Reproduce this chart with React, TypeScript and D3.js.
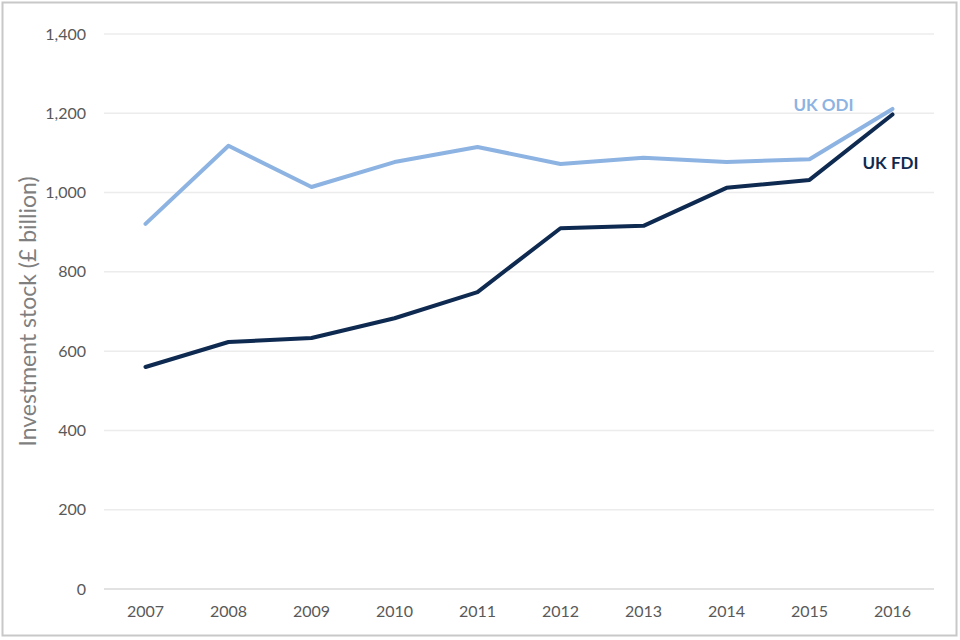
import { useEffect, useRef } from "react"
import * as d3 from "d3"

const years = ["2007", "2008", "2009", "2010", "2011", "2012", "2013", "2014", "2015", "2016"]
const ukOdi = [921, 1118, 1014, 1077, 1115, 1072, 1088, 1077, 1084, 1211]
const ukFdi = [560, 623, 633, 683, 749, 910, 916, 1012, 1032, 1197]
const yTicks = [0, 200, 400, 600, 800, 1000, 1200, 1400]

const FONT = "Lato, 'Open Sans', sans-serif"

export default function App() {
  const svgRef = useRef<SVGSVGElement>(null)

  useEffect(() => {
    if (!svgRef.current) return
    const svg = d3.select(svgRef.current)
    svg.selectAll("*").remove()

    const width = 960
    const height = 640
    const margin = { top: 34, right: 26, bottom: 51, left: 104 }
    const innerW = width - margin.left - margin.right
    const innerH = height - margin.top - margin.bottom

    // рамка
    svg
      .append("rect")
      .attr("x", 2.5)
      .attr("y", 2.5)
      .attr("width", width - 6)
      .attr("height", height - 7)
      .attr("fill", "#fff")
      .attr("stroke", "#c8c8c8")
      .attr("stroke-width", 2)

    const g = svg.append("g").attr("transform", `translate(${margin.left},${margin.top})`)

    const x = d3.scaleBand().domain(years).range([0, innerW])
    const y = d3.scaleLinear().domain([0, 1400]).range([innerH, 0])

    // сетка
    g.selectAll(".grid")
      .data(yTicks)
      .enter()
      .append("line")
      .attr("x1", 0)
      .attr("x2", innerW)
      .attr("y1", (d) => y(d))
      .attr("y2", (d) => y(d))
      .attr("stroke", (d) => (d === 0 ? "#d9d9d9" : "#ececec"))
      .attr("stroke-width", 1.5)

    // подписи оси Y
    g.selectAll(".ytick")
      .data(yTicks)
      .enter()
      .append("text")
      .attr("x", -18)
      .attr("y", (d) => y(d))
      .attr("dy", "0.35em")
      .attr("text-anchor", "end")
      .attr("fill", "#595959")
      .style("font-family", FONT)
      .style("font-size", "16px")
      .text((d) => d3.format(",")(d))

    // подписи оси X
    g.selectAll(".xtick")
      .data(years)
      .enter()
      .append("text")
      .attr("x", (d) => (x(d) || 0) + x.bandwidth() / 2)
      .attr("y", innerH + 28)
      .attr("text-anchor", "middle")
      .attr("fill", "#595959")
      .style("font-family", FONT)
      .style("font-size", "16px")
      .text((d) => d)

    // заголовок оси Y
    svg
      .append("text")
      .attr("transform", `translate(36,${margin.top + innerH / 2}) rotate(-90)`)
      .attr("text-anchor", "middle")
      .attr("fill", "#7f7f7f")
      .style("font-family", FONT)
      .style("font-size", "23px")
      .text("Investment stock (£ billion)")

    const line = d3
      .line<number>()
      .x((_, i) => (x(years[i]) || 0) + x.bandwidth() / 2)
      .y((d) => y(d))

    g.append("path")
      .datum(ukOdi)
      .attr("fill", "none")
      .attr("stroke", "#8db3e2")
      .attr("stroke-width", 4)
      .attr("stroke-linejoin", "round")
      .attr("stroke-linecap", "round")
      .attr("d", line)

    g.append("path")
      .datum(ukFdi)
      .attr("fill", "none")
      .attr("stroke", "#0f2a50")
      .attr("stroke-width", 4)
      .attr("stroke-linejoin", "round")
      .attr("stroke-linecap", "round")
      .attr("d", line)

    // подписи серий
    const last = years[years.length - 1]
    const lastX = (x(last) || 0) + x.bandwidth() / 2
    g.append("text")
      .attr("x", lastX - 69)
      .attr("y", y(ukOdi[ukOdi.length - 1]) + 2)
      .attr("text-anchor", "middle")
      .attr("fill", "#8db3e2")
      .style("font-family", FONT)
      .style("font-size", "17px")
      .style("font-weight", "bold")
      .text("UK ODI")

    g.append("text")
      .attr("x", lastX - 2)
      .attr("y", y(ukFdi[ukFdi.length - 1]) + 55)
      .attr("text-anchor", "middle")
      .attr("fill", "#0f2a50")
      .style("font-family", FONT)
      .style("font-size", "17px")
      .style("font-weight", "bold")
      .text("UK FDI")
  }, [])

  return (
    <svg
      ref={svgRef}
      width={960}
      height={640}
      style={{ display: "block", position: "absolute", left: 0, top: 0 }}
    />
  )
}
